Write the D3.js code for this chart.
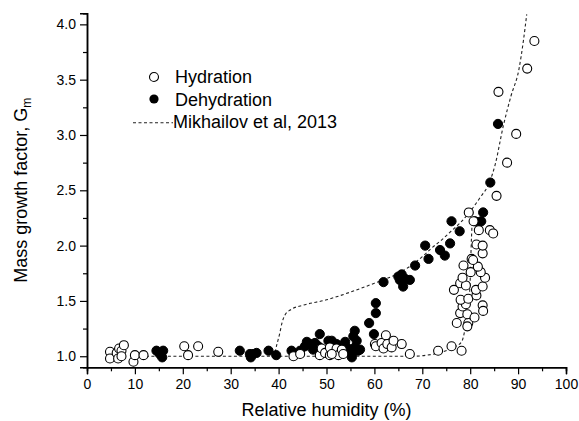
<!DOCTYPE html>
<html>
<head>
<meta charset="utf-8">
<script src="https://cdn.jsdelivr.net/npm/d3@7"></script>
<style>
  body { margin: 0; background: #fff; }
  svg { display: block; font-family: "Liberation Sans", Arial, sans-serif; }
</style>
</head>
<body>
<div id="chart"></div>
<script>
// 1. Data: [relative humidity %, mass growth factor]
const hydration = [
  [4.8,1.04],[4.8,0.98],[6.2,1.03],[6.5,0.98],[6.7,1.07],[7.2,1.05],[7.7,1.10],[7.2,1.00],
  [9.7,0.95],[10.0,1.01],[11.8,1.01],
  [20.3,1.09],[21.1,1.01],[23.2,1.09],[27.4,1.04],
  [43.1,1.00],[44.5,1.02],
  [48.6,1.01],[49.0,1.07],[49.7,1.03],[50.7,1.01],[50.7,1.08],[52.1,1.07],[52.5,1.01],
  [53.2,1.06],[53.5,1.02],[51.1,1.02],
  [60.1,1.11],[60.3,1.09],[61.5,1.12],[61.9,1.07],[62.4,1.19],[62.7,1.11],[63.6,1.08],
  [64.0,1.14],[65.7,1.11],[67.4,1.02],
  [73.3,1.05],[76.1,1.09],[78.2,1.05],
  [77.2,1.30],[79.6,1.30],[79.4,1.27],[77.9,1.39],[79.4,1.38],[80.9,1.35],[78.4,1.45],
  [79.1,1.47],[82.6,1.46],[82.7,1.41],[78.0,1.51],[79.6,1.52],[81.3,1.55],[76.6,1.60],
  [81.2,1.60],[82.6,1.63],[77.9,1.66],[79.1,1.64],[78.4,1.71],[83.1,1.71],[80.1,1.76],
  [82.2,1.76],[78.6,1.82],[81.6,1.81],[80.3,1.88],[80.6,1.87],[82.6,1.93],[81.3,2.01],
  [82.6,2.00],[79.7,2.30],[80.7,2.22],[81.8,2.14],[84.1,2.14],[84.8,2.11],
  [85.5,2.45],[87.7,2.75],[89.6,3.01],[85.9,3.39],[91.9,3.60],[93.4,3.85]
];

const dehydration = [
  [14.5,1.05],[15.9,1.05],[15.2,1.02],[15.7,0.99],
  [31.9,1.05],[34.0,1.02],[34.2,0.99],[35.4,1.03],[34.7,1.02],[37.9,1.05],[39.5,1.01],
  [42.7,1.05],[44.5,1.05],[45.9,1.13],[46.6,1.11],[45.5,1.09],[47.6,1.12],[48.3,1.09],
  [47.2,1.06],[48.6,1.20],
  [50.4,1.14],[51.1,1.14],[51.6,1.09],[52.1,1.11],
  [53.9,1.13],[54.2,1.08],[54.9,1.06],[55.3,1.02],[55.3,0.99],[55.6,1.18],[55.9,1.23],
  [56.3,1.14],[55.9,1.08],[56.6,1.05],[57.0,1.06],
  [58.9,1.30],[59.9,1.20],[60.3,1.48],[60.3,1.39],
  [61.9,1.67],[65.0,1.72],[65.7,1.74],[66.4,1.70],[67.4,1.69],[66.0,1.63],[65.3,1.69],
  [68.5,1.82],[71.3,1.88],[70.6,2.00],[73.7,1.96],[74.7,1.91],[75.8,2.02],[76.1,2.22],
  [77.8,2.13],[81.0,2.22],[82.3,2.22],[82.7,2.30],[84.2,2.57],[85.8,3.10]
];

// Model curves (Mikhailov et al, 2013)
const modelEfflorescence = [
  [10,1.0],[20,1.0],[30,1.0],[39.0,1.0],[39.6,1.1],[40.2,1.2],[40.7,1.3],[41.3,1.37],
  [42.5,1.42],[45,1.46],[50,1.51],[55,1.58],[60,1.66],[65,1.75],[68,1.83],[70,1.90],
  [72,1.98],[74,2.05],[76,2.13],[78,2.21],[80,2.31],[82,2.43],[84,2.57],[85.2,2.73],
  [86.9,3.08],[88.5,3.35],[90.2,3.60],[91.1,3.85],[91.8,4.09]
];
const modelDeliquescence = [
  [39,1.0],[50,1.0],[60,1.0],[68,1.0],[71,1.01],[73.5,1.03],[75.5,1.06],[77,1.09],
  [78.2,1.13],[78.9,1.24],[79.6,1.45],[80.0,1.69],[80.2,1.99],[80.4,2.2],[80.6,2.32]
];

const xTicks = [0,10,20,30,40,50,60,70,80,90,100];
const xMinor = [5,15,25,35,45,55,65,75,85,95];
const yTicks = [1.0,1.5,2.0,2.5,3.0,3.5,4.0];
const yMinor = [1.25,1.75,2.25,2.75,3.25,3.75];
const legendLabels = ["Hydration", "Dehydration", "Mikhailov et al, 2013"];

// 2. Dimensions
const W = 579, H = 421;
const margin = { top: 13.3, right: 13, bottom: 53.7, left: 87 };
const width = W - margin.left - margin.right;
const height = H - margin.top - margin.bottom;

const svg = d3.select("#chart").append("svg")
    .attr("width", W).attr("height", H);
const g = svg.append("g")
    .attr("transform", `translate(${margin.left},${margin.top})`);

// 3. Scales
const x = d3.scaleLinear().domain([0, 100]).range([0, width]);
const y = d3.scaleLinear().domain([0.9, 4.1]).range([height, 0]);

// 4. Axes (major + minor ticks, outward)
function styleAxis(sel) {
  sel.select(".domain").attr("stroke", "#000").attr("stroke-width", 1.5);
  sel.selectAll(".tick line").attr("stroke", "#000").attr("stroke-width", 1.2);
  sel.selectAll("text").attr("fill", "#000").style("font-size", "14px");
}

g.append("g").attr("transform", `translate(0,${height})`)
  .call(d3.axisBottom(x).tickValues(xMinor).tickSize(4).tickFormat(""))
  .call(styleAxis);
g.append("g").attr("transform", `translate(0,${height})`)
  .call(d3.axisBottom(x).tickValues(xTicks).tickSize(7).tickPadding(5).tickFormat(d3.format("d")))
  .call(styleAxis);

g.append("g")
  .call(d3.axisLeft(y).tickValues(yMinor).tickSize(4).tickFormat(""))
  .call(styleAxis);
g.append("g")
  .call(d3.axisLeft(y).tickValues(yTicks).tickSize(7).tickPadding(4).tickFormat(d3.format(".1f")))
  .call(styleAxis);

// 5. Axis titles
svg.append("text")
  .attr("x", margin.left + width / 2).attr("y", 416)
  .attr("text-anchor", "middle").style("font-size", "18px")
  .text("Relative humidity (%)");

const yt = svg.append("text")
  .attr("transform", `translate(27,${margin.top + height / 2}) rotate(-90)`)
  .attr("text-anchor", "middle").style("font-size", "18px");
yt.append("tspan").text("Mass growth factor, G");
yt.append("tspan").attr("dy", 4).style("font-size", "12px").text("m");

// 6. Model curves
const line = d3.line()
  .x(d => x(d[0])).y(d => y(d[1]))
  .curve(d3.curveMonotoneX);

[modelEfflorescence, modelDeliquescence].forEach(curve => {
  g.append("path").datum(curve)
    .attr("d", line)
    .attr("fill", "none")
    .attr("stroke", "#222")
    .attr("stroke-width", 1.1)
    .attr("stroke-dasharray", "3,2.5");
});

// 7. Points
g.append("g").selectAll("circle")
  .data(dehydration).join("circle")
  .attr("cx", d => x(d[0])).attr("cy", d => y(d[1]))
  .attr("r", 4.6).attr("fill", "#000").attr("stroke", "#000");

g.append("g").selectAll("circle")
  .data(hydration).join("circle")
  .attr("cx", d => x(d[0])).attr("cy", d => y(d[1]))
  .attr("r", 4.5).attr("fill", "#fff").attr("stroke", "#000").attr("stroke-width", 1.1);

// 8. Legend
const legend = svg.append("g").attr("transform", "translate(133,77)");
legend.append("circle").attr("cx", 21).attr("cy", 0).attr("r", 4.5)
  .attr("fill", "#fff").attr("stroke", "#000").attr("stroke-width", 1.1);
legend.append("circle").attr("cx", 21).attr("cy", 22).attr("r", 4.6)
  .attr("fill", "#000");
legend.append("line").attr("x1", 0).attr("x2", 40).attr("y1", 45.7).attr("y2", 45.7)
  .attr("stroke", "#222").attr("stroke-width", 1.1).attr("stroke-dasharray", "3,2.5");
legendLabels.forEach((label, i) => {
  legend.append("text")
    .attr("x", i === 2 ? 40 : 42).attr("y", 6 + i * 22.7)
    .style("font-size", "18px").attr("fill", "#000")
    .text(label);
});
</script>
</body>
</html>
